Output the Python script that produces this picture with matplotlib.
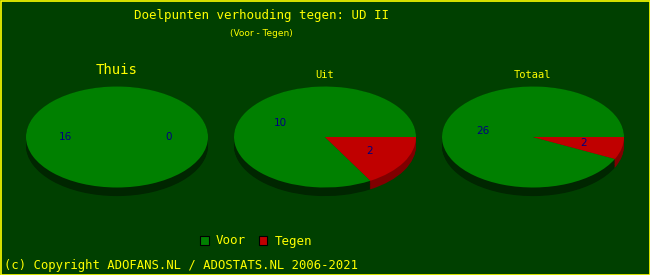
import numpy as np
import matplotlib
matplotlib.use("Agg")
import matplotlib.pyplot as plt
from matplotlib.patches import Patch, Rectangle

# data
titles = ["Thuis", "Uit", "Totaal"]
voor = [16, 10, 26]
tegen = [0, 2, 2]
legend_labels = ["Voor", "Tegen"]

bg = "#004000"
yel = "#ffff00"
cols = ["#008000", "#c00000"]
side_cols = ["#002600", "#800000"]

W, H = 650, 275
fig = plt.figure(figsize=(6.5, 2.75), dpi=100, facecolor=bg)

# pie centres in pixels, radii in pixels
centres = [117, 325, 533]
rx, ry = 91, 50.5
depth = 0.17          # shadow thickness in pie units
ytop = 86.5
title_sizes = [10, 7.5, 7.5]
title_y = [70, 75, 75]

for i in range(3):
    cx = centres[i]
    ax = fig.add_axes([(cx - rx) / W, 1 - (ytop + ry * (2 + depth)) / H,
                       2 * rx / W, ry * (2 + depth) / H])
    ax.set_facecolor(bg)
    vals = [voor[i], tegen[i]]
    # side of the 3d pie: stacked shifted copies
    for off in np.linspace(depth, 0.005, 12):
        ax.pie(vals, colors=side_cols, startangle=0, counterclock=True,
               center=(0, -off), radius=1,
               wedgeprops=dict(linewidth=0))
    wedges, texts = ax.pie(vals, colors=cols, startangle=0, counterclock=True,
                           labels=[str(v) for v in vals], labeldistance=0.57,
                           wedgeprops=dict(linewidth=0),
                           textprops=dict(color="#000080", fontsize=7.5,
                                          family="DejaVu Sans"))
    for t in texts:
        t.set_ha("center")
        t.set_va("center")
    ax.set_aspect("auto")
    ax.set_xlim(-1, 1)
    ax.set_ylim(-1 - depth, 1)
    ax.axis("off")
    fig.text(cx / W, 1 - title_y[i] / H, titles[i], color=yel,
             fontsize=title_sizes[i], family="DejaVu Sans Mono",
             ha="center", va="center")

fig.text(261 / W, 1 - 16 / H, "Doelpunten verhouding tegen: UD II", color=yel,
         fontsize=9, family="DejaVu Sans Mono", ha="center", va="center")
fig.text(261 / W, 1 - 34 / H, "(Voor - Tegen)", color=yel,
         fontsize=6.5, family="DejaVu Sans", ha="center", va="center")

handles = [Patch(facecolor=c, edgecolor="black", linewidth=0.8) for c in cols]
fig.legend(handles, legend_labels, loc="center", ncol=2,
           bbox_to_anchor=(256 / W, 1 - 241 / H), frameon=False,
           handlelength=0.7, handleheight=0.7, handletextpad=0.6,
           columnspacing=1.0, borderpad=0,
           prop=dict(family="DejaVu Sans Mono", size=9), labelcolor=yel)

fig.text(4 / W, 1 - 266 / H, "(c) Copyright ADOFANS.NL / ADOSTATS.NL 2006-2021",
         color=yel, fontsize=8.8, family="DejaVu Sans Mono",
         ha="left", va="center")

fig.patches.append(Rectangle((0.5 / W, 0.5 / H), 1 - 1 / W, 1 - 1 / H,
                             transform=fig.transFigure, fill=False,
                             edgecolor=yel, linewidth=1.2))

fig.savefig("out.png", dpi=100, facecolor=bg)
